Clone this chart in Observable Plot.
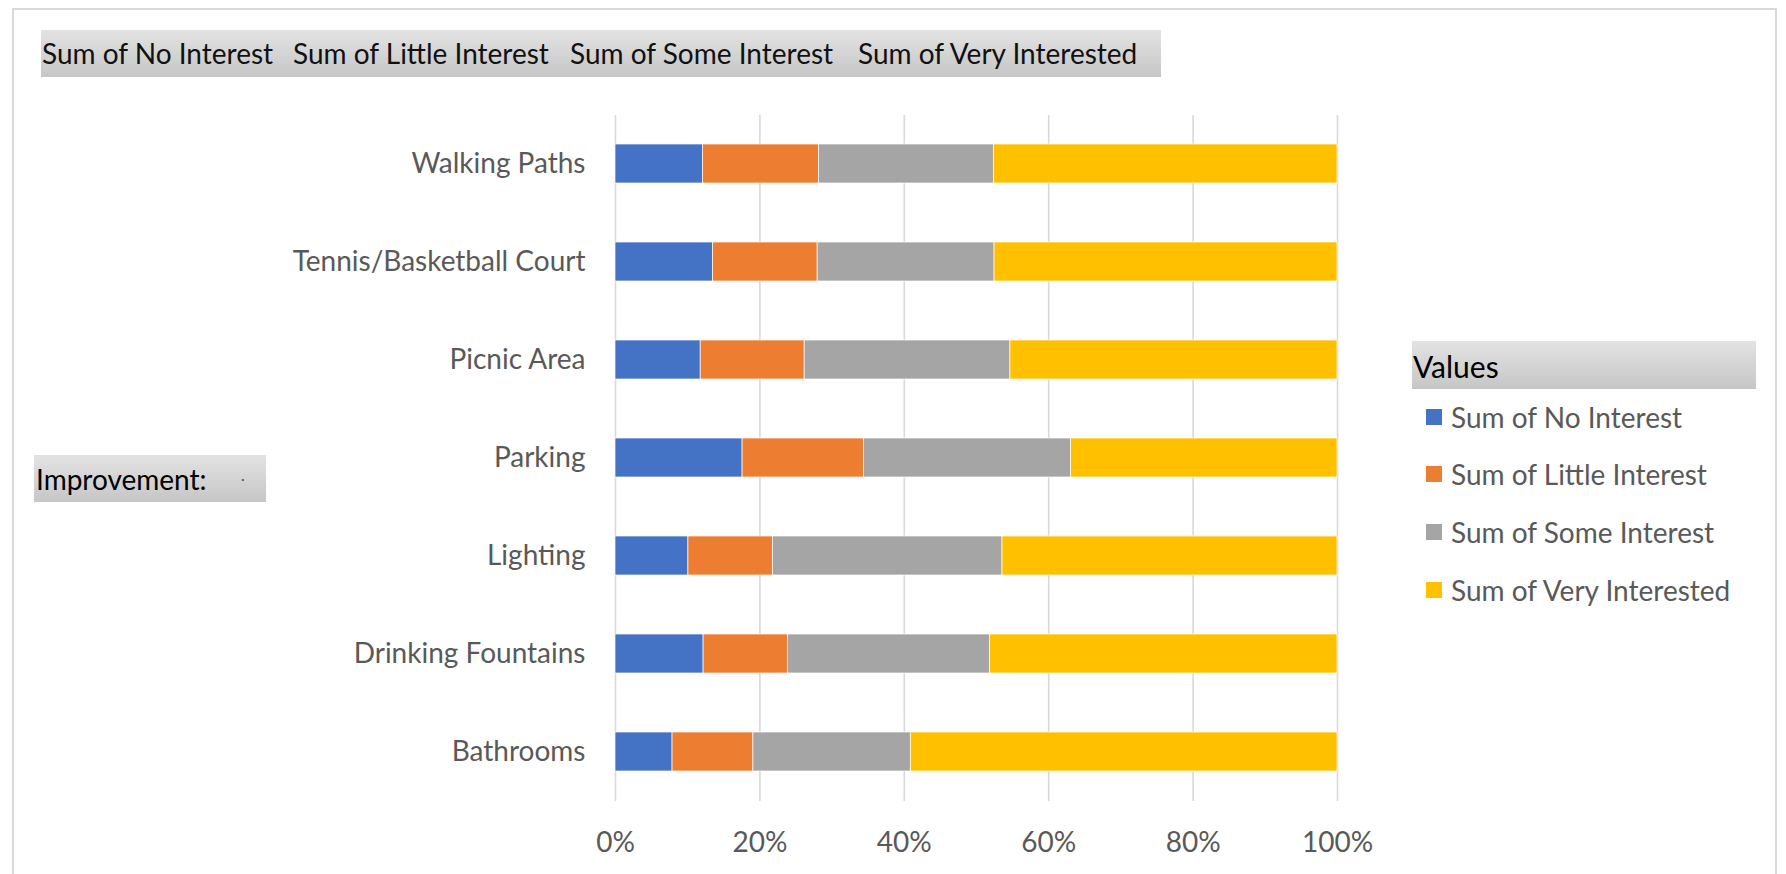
<!DOCTYPE html>
<html>
<head>
<meta charset="utf-8">
<script src="https://cdn.jsdelivr.net/npm/d3@7"></script>
<script src="https://cdn.jsdelivr.net/npm/@observablehq/plot@0.6"></script>
<style>
  html, body { margin: 0; padding: 0; background: #fff; }
  #wrap { position: relative; width: 1786px; height: 874px; overflow: hidden; font-family: Lato, "Open Sans", sans-serif; }
  #frame { position: absolute; left: 12px; top: 8px; width: 1765px; height: 900px; border: 2px solid #d9d9d9; box-sizing: border-box; }
  #chart { position: absolute; left: 0; top: 0; }
  .box { position: absolute; background: linear-gradient(#e3e3e3, #c6c6c6); color: #000; white-space: nowrap; box-sizing: border-box; }
  .hdr { position: absolute; top: 0; font-size: 28px; line-height: 47px; color: #111; }
  .leg { position: absolute; left: 1426px; height: 30px; font-size: 28px; color: #595959; white-space: nowrap; }
  .leg .sw { position: absolute; left: 0; top: 7px; width: 16px; height: 16px; }
  .leg .lb { position: absolute; left: 25px; top: 0; line-height: 30px; }
</style>
</head>
<body>
<div id="wrap">
  <div id="frame"></div>
  <div id="chart"></div>
  <div class="box" id="topbox" style="left:41px; top:30px; width:1120px; height:47px;"></div>
  <div class="box" id="impbox" style="left:34px; top:455px; width:232px; height:47px;">
    <span style="position:absolute; left:2px; top:0; line-height:49px; font-size:28px;">Improvement:</span>
    <span style="position:absolute; left:207px; top:0; line-height:47px; font-size:14px; color:#555;">·</span>
  </div>
  <div class="box" id="valbox" style="left:1412px; top:341px; width:344px; height:48px;">
    <span style="position:absolute; left:1px; top:0; line-height:50px; font-size:30px;">Values</span>
  </div>
  <div id="legend"></div>
</div>
<script>
const categories = ["Walking Paths", "Tennis/Basketball Court", "Picnic Area", "Parking", "Lighting", "Drinking Fountains", "Bathrooms"];
const seriesNames = ["Sum of No Interest", "Sum of Little Interest", "Sum of Some Interest", "Sum of Very Interested"];
const seriesColors = ["#4472C4", "#ED7D31", "#A5A5A5", "#FFC000"];
const noInterest     = [12.1, 13.5, 11.8, 17.6, 10.1, 12.2,  7.9];
const littleInterest = [16.1, 14.5, 14.4, 16.8, 11.7, 11.7, 11.2];
const someInterest   = [24.2, 24.5, 28.5, 28.7, 31.8, 28.0, 21.8];
const veryInterested = [47.6, 47.5, 45.3, 36.9, 46.4, 48.1, 59.1];
const xTicks = [0, 0.2, 0.4, 0.6, 0.8, 1];
const headerLefts = [42, 293, 570, 858];
const legendTops = [402, 459, 517, 575];

const seriesValues = [noInterest, littleInterest, someInterest, veryInterested];
const data = [];
seriesNames.forEach((s, si) => {
  categories.forEach((c, ci) => data.push({category: c, series: s, value: seriesValues[si][ci]}));
});

const chart = Plot.plot({
  width: 1786,
  height: 874,
  marginLeft: 615,
  marginRight: 449,
  marginTop: 115,
  marginBottom: 73,
  style: {fontFamily: "Lato, 'Open Sans', sans-serif", background: "transparent", color: "#595959"},
  x: {domain: [0, 1]},
  y: {domain: categories, paddingInner: 0.6, paddingOuter: 0.3},
  color: {domain: seriesNames, range: seriesColors},
  marks: [
    Plot.gridX(xTicks, {stroke: "#d9d9d9", strokeOpacity: 1, strokeWidth: 1.6}),
    Plot.barX(data, Plot.stackX({x: "value", y: "category", fill: "series", offset: "normalize", stroke: "#ffffff", strokeWidth: 0.7})),
    Plot.axisX(xTicks, {tickFormat: d3.format(".0%"), tickSize: 0, tickPadding: 31, fontSize: 28, label: null}),
    Plot.axisY({tickSize: 0, tickPadding: 30, fontSize: 28, label: null})
  ]
});
document.getElementById("chart").appendChild(chart);

const topbox = document.getElementById("topbox");
seriesNames.forEach((s, i) => {
  const sp = document.createElement("span");
  sp.className = "hdr";
  sp.style.left = (headerLefts[i] - 41) + "px";
  sp.textContent = s;
  topbox.appendChild(sp);
});

const legend = document.getElementById("legend");
seriesNames.forEach((s, i) => {
  const row = document.createElement("div");
  row.className = "leg";
  row.style.top = legendTops[i] + "px";
  const sw = document.createElement("div");
  sw.className = "sw";
  sw.style.background = seriesColors[i];
  const lb = document.createElement("div");
  lb.className = "lb";
  lb.textContent = s;
  row.appendChild(sw);
  row.appendChild(lb);
  legend.appendChild(row);
});
</script>
</body>
</html>
